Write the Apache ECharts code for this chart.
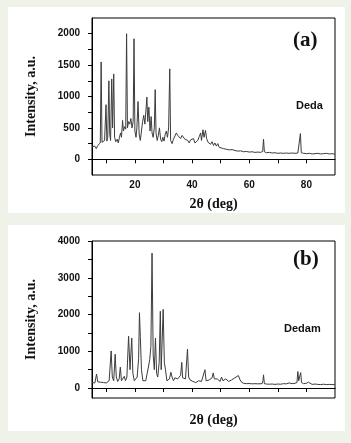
<!DOCTYPE html>
<html>
<head>
<meta charset="utf-8">
<script src="https://cdn.jsdelivr.net/npm/echarts@6/dist/echarts.min.js"></script>
<style>
  html, body { margin: 0; padding: 0; background: #eef2e8; }
  #chart { width: 351px; height: 443px; }
</style>
</head>
<body>
<div id="chart"></div>
<script>
// panel (a): Deda
const aX = [5.0, 5.5, 6.0, 6.5, 7.0, 7.5, 7.9, 8.2, 8.5, 9.0, 9.4, 9.9, 10.2, 10.5, 10.9, 11.2, 11.5, 11.9, 12.2, 12.6,
  12.9, 13.3, 13.8, 14.2, 14.6, 15.0, 15.3, 15.7, 16.0, 16.4, 16.8, 17.1, 17.4, 17.8, 18.2, 18.6, 19.0, 19.4, 19.7, 20.0,
  20.4, 20.7, 21.1, 21.5, 21.9, 22.3, 22.7, 23.1, 23.5, 23.9, 24.2, 24.5, 24.9, 25.3, 25.7, 26.0, 26.4, 26.8, 27.1, 27.4,
  27.8, 28.2, 28.6, 29.0, 29.4, 29.8, 30.2, 30.6, 31.0, 31.4, 31.8, 32.2, 32.5, 33.0, 33.5, 34.0, 34.5, 35.0, 35.5, 36.0,
  36.5, 37.0, 37.5, 38.0, 38.5, 39.0, 39.5, 40.0, 40.5, 41.0, 41.5, 42.0, 42.5, 43.0, 43.3, 43.8, 44.2, 44.7, 45.1, 45.6,
  46.0, 46.5, 47.0, 47.5, 48.0, 48.5, 49.0, 49.5, 50, 51, 52, 53, 54, 55, 56, 57, 58, 59, 60, 61,
  62, 63, 64, 64.7, 65.0, 65.3, 66, 67, 68, 69, 70, 71, 72, 73, 74, 75, 76, 77, 77.6, 77.9,
  78.2, 79, 80, 81, 82, 83, 84, 85, 86, 87, 88, 89, 90];
const aY = [200, 180, 210, 170, 220, 240, 260, 1550, 270, 250, 300, 870, 290, 350, 1250, 400, 300, 1280, 500, 1360,
  350, 280, 320, 260, 350, 420, 350, 620, 450, 520, 480, 2000, 500, 600, 560, 650, 500, 600, 1920, 450,
  350, 500, 920, 400, 300, 450, 600, 700, 560, 800, 990, 600, 830, 450, 680, 420, 350, 500, 1110, 420,
  300, 380, 500, 320, 280, 350, 290, 400, 450, 350, 500, 1440, 300, 250, 320, 300, 420, 380, 400, 330,
  380, 400, 320, 350, 300, 260, 310, 280, 330, 260, 250, 300, 360, 420, 300, 470, 350, 460, 330, 270,
  300, 240, 280, 220, 260, 210, 250, 190, 180, 170, 160, 150, 155, 140, 130, 135, 120, 125, 115, 120,
  110, 115, 110, 125, 320, 120, 105, 110, 100, 105, 95, 100, 95, 100, 95, 100, 95, 100, 110, 410,
  105, 95, 90, 95, 85, 90, 95, 85, 90, 95, 85, 90, 80];

// panel (b): Dedam
const bX = [5, 5.5, 6.0, 6.6, 7.0, 7.5, 8.0, 8.5, 9.0, 9.5, 10.0, 10.5, 11.0, 11.7, 12.1, 12.6, 13.1, 13.5, 14.0, 14.5,
  14.9, 15.3, 15.8, 16.3, 16.7, 17.2, 17.8, 18.3, 18.9, 19.3, 19.8, 20.3, 20.8, 21.3, 21.6, 21.9, 22.3, 22.8, 23.3, 23.8,
  24.3, 24.8, 25.2, 25.6, 26.0, 26.4, 26.8, 27.2, 27.6, 28.0, 28.5, 28.9, 29.2, 29.9, 30.3, 30.7, 31.2, 31.6, 32.1, 32.6,
  33.0, 33.5, 34.0, 34.5, 35.0, 35.5, 36.0, 36.4, 36.7, 37.2, 37.7, 38.4, 38.8, 39.3, 39.8, 40.3, 40.8, 41.3, 41.8, 42.3,
  42.8, 43.3, 43.8, 44.5, 44.9, 45.5, 46.0, 46.5, 47.0, 47.4, 47.8, 48.3, 48.8, 49.3, 49.8, 50.3, 50.8, 51.3, 51.8, 52.3,
  52.8, 53.3, 53.8, 54.3, 55.0, 55.6, 56.2, 56.8, 57.3, 58, 59, 60, 61, 62, 63, 64.5, 64.8, 65.0, 65.3, 66,
  67, 68, 69, 70, 71, 72, 73, 74, 75, 76, 76.7, 77.0, 77.3, 77.7, 78.0, 78.3, 79, 80, 80.7, 81.2,
  82, 83, 84, 85, 86, 87, 88, 89, 90];
const bY = [150, 160, 140, 380, 170, 150, 160, 140, 150, 130, 140, 160, 200, 1010, 300, 200, 920, 300, 180, 250,
  570, 200, 150, 320, 200, 300, 1410, 500, 1360, 400, 200, 150, 300, 800, 2050, 1400, 500, 200, 150, 200,
  400, 600, 780, 1130, 3670, 900, 500, 1360, 400, 300, 700, 2090, 500, 2140, 700, 500, 200, 180, 250, 430,
  300, 200, 280, 300, 250, 300, 350, 700, 280, 300, 250, 1060, 300, 220, 200, 180, 200, 150, 140, 200,
  250, 180, 200, 500, 200, 250, 220, 180, 280, 410, 250, 200, 250, 220, 180, 300, 200, 180, 250, 200,
  180, 170, 220, 200, 280, 330, 340, 220, 160, 130, 120, 125, 115, 120, 115, 120, 200, 360, 120, 110,
  105, 110, 100, 110, 105, 120, 115, 140, 120, 130, 150, 450, 200, 150, 420, 150, 120, 130, 160, 110,
  100, 110, 100, 95, 105, 95, 100, 95, 95];

// ticks and labels
const xTicks = [10, 20, 30, 40, 50, 60, 70, 80];
const xLabelsA = [20, 40, 60, 80];
const yTicksA = [0, 250, 500, 750, 1000, 1250, 1500, 1750, 2000];
const yLabelsA = [0, 500, 1000, 1500, 2000];
const yTicksB = [0, 500, 1000, 1500, 2000, 2500, 3000, 3500, 4000];
const yLabelsB = [0, 1000, 2000, 3000, 4000];

const zip = (xs, ys) => xs.map((x, i) => [x, ys[i]]);

const chart = echarts.init(document.getElementById('chart'));

const serifName = { fontFamily: 'Liberation Serif', fontWeight: 'bold', fontSize: 14, color: '#111' };

// panel b has ticks but no tick labels
const makeX = (gridIndex, labels, showText) => ({
  type: 'value',
  gridIndex,
  min: 5,
  max: 90,
  name: '2θ (deg)',
  nameLocation: 'middle',
  nameGap: gridIndex === 0 ? 22 : 15,
  nameTextStyle: serifName,
  axisLine: { show: true, lineStyle: { color: '#000', width: 1 } },
  axisTick: { show: true, customValues: xTicks, length: 4, lineStyle: { color: '#000' } },
  axisLabel: {
    show: true,
    customValues: labels,
    formatter: v => (showText ? String(v) : ''),
    margin: 5,
    fontFamily: 'Liberation Sans',
    fontWeight: 'bold',
    fontSize: 10,
    color: '#111'
  },
  splitLine: { show: false }
})

const makeY = (gridIndex, min, max, ticks, labels) => ({
  type: 'value',
  gridIndex,
  min,
  max,
  name: 'Intensity, a.u.',
  nameLocation: 'middle',
  nameGap: 54,
  nameTextStyle: serifName,
  axisLine: { show: true, lineStyle: { color: '#000', width: 1 } },
  axisTick: { show: true, customValues: ticks, length: 4, lineStyle: { color: '#000' } },
  axisLabel: {
    customValues: labels,
    formatter: v => String(v),
    margin: 12,
    fontFamily: 'Liberation Sans',
    fontWeight: 'bold',
    fontSize: 10,
    color: '#111'
  },
  splitLine: { show: false }
})

const option = {
  backgroundColor: '#eef2e8',
  animation: false,
  graphic: [
    { type: 'rect', shape: { x: 8, y: 7, width: 337, height: 206 }, style: { fill: '#fff' }, z: -10 },
    { type: 'rect', shape: { x: 8, y: 225, width: 337, height: 206 }, style: { fill: '#fff' }, z: -10 },
    { type: 'text', left: 293, top: 30, style: { text: '(a)', font: 'bold 21px "Liberation Serif"', fill: '#111' } },
    { type: 'text', left: 293, top: 249, style: { text: '(b)', font: 'bold 21px "Liberation Serif"', fill: '#111' } },
    { type: 'text', left: 296, top: 100, style: { text: 'Deda', font: 'bold 11px "Liberation Sans"', fill: '#111' } },
    { type: 'text', left: 284, top: 323, style: { text: 'Dedam', font: 'bold 11px "Liberation Sans"', fill: '#111' } }
  ],
  grid: [
    { left: 92, top: 18, width: 243, height: 157, show: true, borderColor: '#000', borderWidth: 1, backgroundColor: 'transparent' },
    { left: 92, top: 241, width: 243, height: 157, show: true, borderColor: '#000', borderWidth: 1, backgroundColor: 'transparent' }
  ],
  xAxis: [makeX(0, xLabelsA, true), makeX(1, xTicks, false)],
  yAxis: [
    makeY(0, -250, 2250, yTicksA, yLabelsA),
    makeY(1, -270, 4000, yTicksB, yLabelsB)
  ],
  series: [
    {
      type: 'line',
      xAxisIndex: 0,
      yAxisIndex: 0,
      data: zip(aX, aY),
      showSymbol: false,
      lineStyle: { color: '#3c3c3c', width: 1 }
    },
    {
      type: 'line',
      xAxisIndex: 1,
      yAxisIndex: 1,
      data: zip(bX, bY),
      showSymbol: false,
      lineStyle: { color: '#3c3c3c', width: 1 }
    }
  ]
}

chart.setOption(option);
</script>
</body>
</html>
